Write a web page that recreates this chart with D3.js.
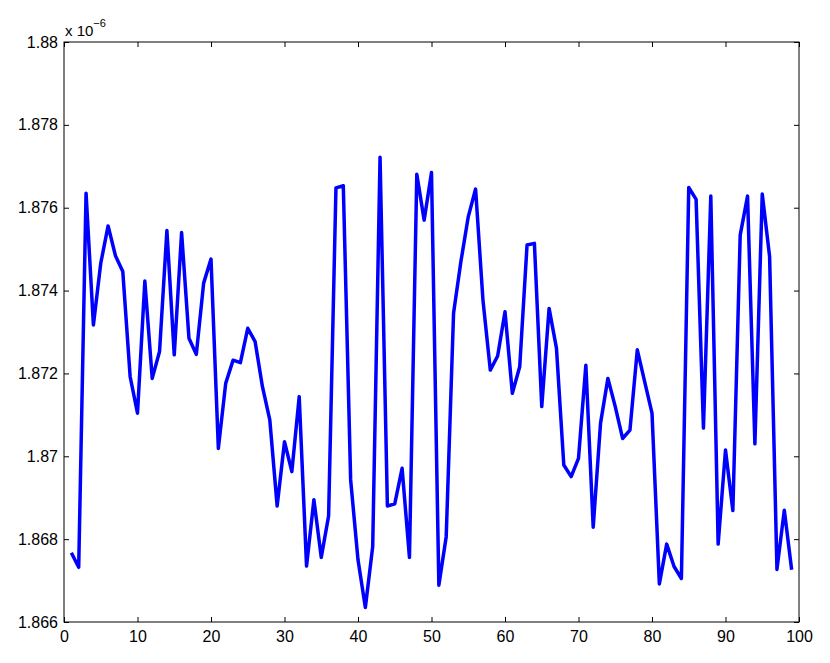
<!DOCTYPE html>
<html>
<head>
<meta charset="utf-8">
<script src="https://cdn.jsdelivr.net/npm/d3@7"></script>
<style>
  html, body { margin: 0; padding: 0; background: #fff; }
  svg { display: block; }
  text { font-family: "Liberation Sans", Arial, Helvetica, sans-serif; }
</style>
</head>
<body>
<svg id="chart" width="830" height="663"></svg>
<script>
// Data (values in units of 1e-6)
const xValues = d3.range(1, 100);
const yValues = [
  1.86767, 1.86732, 1.87635, 1.87317, 1.87466, 1.87556, 1.87484, 1.87446, 1.87192, 1.87104,
  1.87423, 1.87188, 1.87253, 1.87545, 1.87245, 1.87540, 1.87285, 1.87246, 1.87418, 1.87476,
  1.87019, 1.87176, 1.87232, 1.87226, 1.87309, 1.87277, 1.87168, 1.87088, 1.86880, 1.87035,
  1.86963, 1.87144, 1.86735, 1.86895, 1.86756, 1.86856, 1.87648, 1.87653, 1.86943, 1.86750,
  1.86635, 1.86782, 1.87722, 1.86880, 1.86885, 1.86971, 1.86756, 1.87681, 1.87570, 1.87685,
  1.86689, 1.86806, 1.87345, 1.87470, 1.87578, 1.87645, 1.87377, 1.87208, 1.87242, 1.87349,
  1.87152, 1.87216, 1.87510, 1.87514, 1.87120, 1.87357, 1.87261, 1.86979, 1.86951, 1.86995,
  1.87220, 1.86829, 1.87080, 1.87188, 1.87120, 1.87043, 1.87063, 1.87257, 1.87180, 1.87104,
  1.86692, 1.86788, 1.86734, 1.86705, 1.87649, 1.87620, 1.87068, 1.87628, 1.86788, 1.87015,
  1.86869, 1.87534, 1.87628, 1.87030, 1.87633, 1.87482, 1.86727, 1.86870, 1.86726
];
const xTicks = [0, 10, 20, 30, 40, 50, 60, 70, 80, 90, 100];
const yTicks = [1.866, 1.868, 1.870, 1.872, 1.874, 1.876, 1.878, 1.880];
const yTickLabels = ["1.866", "1.868", "1.87", "1.872", "1.874", "1.876", "1.878", "1.88"];

const svg = d3.select("#chart");
const mLeft = 64, mRight = 799, mTop = 42, mBottom = 622;

const x = d3.scaleLinear().domain([0, 100]).range([mLeft, mRight]);
const y = d3.scaleLinear().domain([1.866, 1.880]).range([mBottom, mTop]);

// Line
const line = d3.line().x((d, i) => x(xValues[i])).y(d => y(d));
svg.append("path")
  .datum(yValues)
  .attr("fill", "none")
  .attr("stroke", "#0000ff")
  .attr("stroke-width", 3.5)
  .attr("stroke-linejoin", "round")
  .attr("d", line);

const tickLen = 5;
const xb = svg.append("g").attr("transform", `translate(0,${mBottom})`)
  .call(d3.axisBottom(x).tickValues(xTicks).tickSize(-tickLen).tickPadding(9).tickFormat(d3.format("d")));
const xt = svg.append("g").attr("transform", `translate(0,${mTop})`)
  .call(d3.axisTop(x).tickValues(xTicks).tickSize(-tickLen).tickFormat(""));
const yl = svg.append("g").attr("transform", `translate(${mLeft},0)`)
  .call(d3.axisLeft(y).tickValues(yTicks).tickSize(-tickLen).tickPadding(6)
    .tickFormat((d, i) => yTickLabels[i]));
const yr = svg.append("g").attr("transform", `translate(${mRight},0)`)
  .call(d3.axisRight(y).tickValues(yTicks).tickSize(-tickLen).tickFormat(""));

[xb, xt, yl, yr].forEach(g => {
  g.select(".domain").remove();
  g.selectAll(".tick line").attr("stroke", "#000").attr("stroke-width", 1);
  g.selectAll(".tick text").attr("fill", "#000").style("font-size", "16px")
    .style("font-family", '"Liberation Sans", Arial, Helvetica, sans-serif');
});

// Box
svg.append("rect")
  .attr("x", mLeft).attr("y", mTop)
  .attr("width", mRight - mLeft).attr("height", mBottom - mTop)
  .attr("fill", "none").attr("stroke", "#000").attr("stroke-width", 1);

// Exponent label
const ex = svg.append("text").attr("x", mLeft + 1).attr("y", 36)
  .style("font-size", "15px").attr("fill", "#000");
ex.append("tspan").text("x 10");
ex.append("tspan").attr("dy", -9).style("font-size", "11px").text("\u22126");
</script>
</body>
</html>
